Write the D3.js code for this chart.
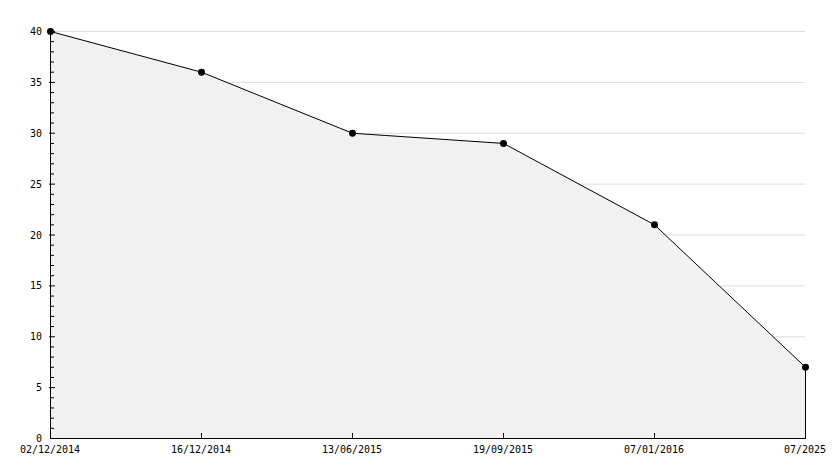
<!DOCTYPE html>
<html><head><meta charset="utf-8">
<script src="https://cdn.jsdelivr.net/npm/d3@7"></script>
<style>
body{margin:0;background:#fff;}
svg{display:block;}
text{font-family:"DejaVu Sans Mono",monospace;font-size:10px;fill:#000;}
</style></head>
<body><svg id="c" width="834" height="468"></svg>
<script>
const categories = ["02/12/2014","16/12/2014","13/06/2015","19/09/2015","07/01/2016","07/2025"];
const values = [40, 36, 30, 29, 21, 7];
const yTicks = [0,5,10,15,20,25,30,35,40];
const yMinorTicks = d3.range(0, 41, 1);

(function(){
const svg = d3.select("#c");
const pLeft = 50, pRight = 805, pTop = 31, pBottom = 438;
const x = d3.scalePoint().domain(categories).range([pLeft, pRight]);
const y = d3.scaleLinear().domain([0, 40]).range([pBottom, pTop]);

// grid
svg.append("g").selectAll("line").data(yTicks.filter(d => d > 0)).join("line")
  .attr("x1", pLeft).attr("x2", pRight)
  .attr("y1", d => y(d) + 0.5).attr("y2", d => y(d) + 0.5)
  .attr("stroke", "#dcdcdc").attr("stroke-width", 1);

const data = categories.map((c, i) => ({c, v: values[i]}));

// area
const area = d3.area().x(d => x(d.c)).y0(y(0)).y1(d => y(d.v));
svg.append("path").datum(data).attr("d", area).attr("fill", "#f1f1f1");

// line
const line = d3.line().x(d => x(d.c) + 0.5).y(d => y(d.v) + 0.5);
svg.append("path").datum(data).attr("d", line).attr("fill", "none").attr("stroke", "#000").attr("stroke-width", 1);

// right edge vertical
const last = data[data.length - 1];
svg.append("line").attr("x1", x(last.c) + 0.5).attr("x2", x(last.c) + 0.5)
  .attr("y1", y(last.v)).attr("y2", y(0)).attr("stroke", "#000");

// y axis
const yAxisG = svg.append("g");
yAxisG.append("line").attr("x1", pLeft + 0.5).attr("x2", pLeft + 0.5).attr("y1", y(40)).attr("y2", y(0) + 1).attr("stroke", "#000");
yAxisG.selectAll("line.minor").data(yMinorTicks.filter(d => d % 5 !== 0)).join("line").attr("class", "minor")
  .attr("x1", pLeft).attr("x2", pLeft + 4)
  .attr("y1", d => y(d) + 0.5).attr("y2", d => y(d) + 0.5).attr("stroke", "#000");
yAxisG.selectAll("line.major").data(yTicks.filter(d => d > 0)).join("line").attr("class", "major")
  .attr("x1", pLeft - 1).attr("x2", pLeft + 5)
  .attr("y1", d => y(d) + 0.5).attr("y2", d => y(d) + 0.5).attr("stroke", "#000");
yAxisG.selectAll("text").data(yTicks).join("text")
  .attr("x", pLeft - 8).attr("y", d => y(d) + 4)
  .attr("text-anchor", "end").text(d => d);

// x axis
const xAxisG = svg.append("g");
xAxisG.append("line").attr("x1", pLeft).attr("x2", pRight + 1).attr("y1", pBottom + 0.5).attr("y2", pBottom + 0.5).attr("stroke", "#000");
xAxisG.selectAll("line.t").data(categories.slice(1, -1)).join("line").attr("class", "t")
  .attr("x1", d => x(d) + 0.5).attr("x2", d => x(d) + 0.5)
  .attr("y1", pBottom - 5).attr("y2", pBottom).attr("stroke", "#000");
xAxisG.selectAll("text").data(categories).join("text")
  .attr("x", d => x(d)).attr("y", pBottom + 15)
  .attr("text-anchor", "middle").text(d => d);

// markers
svg.append("g").selectAll("path").data(data).join("path")
  .attr("transform", d => `translate(${x(d.c) + 0.5},${y(d.v) + 0.5})`)
  .attr("d", d3.symbol().type(d3.symbolCircle).size(38))
  .attr("fill", "#000");
})();
</script></body></html>
